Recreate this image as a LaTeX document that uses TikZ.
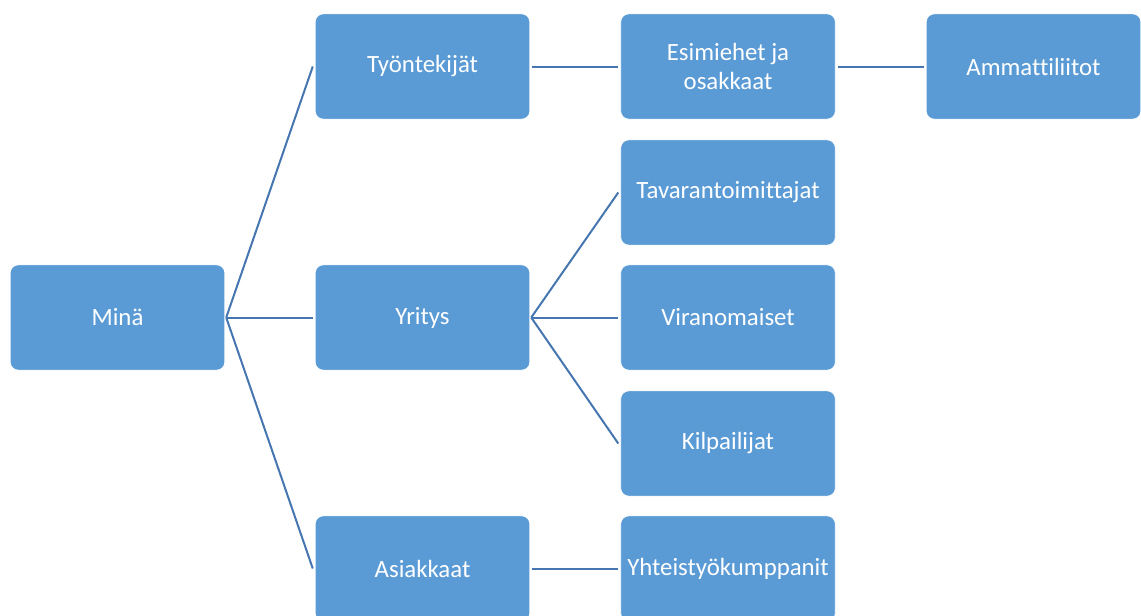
\documentclass[tikz,border=0pt]{standalone}
\usepackage{fontspec}
\setmainfont[Ligatures=NoCommon]{Carlito}
\definecolor{boxblue}{HTML}{5B9BD5}
\definecolor{lineblue}{HTML}{4676B0}
\begin{document}
\begin{tikzpicture}[x=0.75pt,y=-0.75pt,
    box/.style={draw=white,line width=0.6pt,fill=boxblue,rounded corners=6pt,
      minimum width=161pt,minimum height=79pt,text=white,align=center,
      font=\fontsize{18.6}{22}\selectfont},
    conn/.style={draw=lineblue,line width=1.5pt}]
  \useasboundingbox (0,0) rectangle (1141,615);
  % 第一列
  \node[box] (mina) at (117.5,317.5) {Minä};
  % 第二列
  \node[box] (tyo) at (422.5,66.5) {Työntekijät};
  \node[box] (yritys) at (422.5,317.5) {Yritys};
  \node[box] (asiakkaat) at (422.5,568.5) {Asiakkaat};
  % 第三列
  \node[box] (esimiehet) at (728,66.5) {Esimiehet ja\\osakkaat};
  \node[box] (tavara) at (728,192.5) {Tavarantoimittajat};
  \node[box] (viran) at (728,317.5) {Viranomaiset};
  \node[box] (kilpa) at (728,443.5) {Kilpailijat};
  \node[box] (yhteis) at (728,568.5) {Yhteistyökumppanit};
  % 第四列
  \node[box] (ammatti) at (1033.5,66.5) {Ammattiliitot};
  % 连线
  \foreach \b in {tyo,yritys,asiakkaat}
    \draw[conn] ([xshift=0.75pt]mina.east) -- ([xshift=-1.5pt]\b.west);
  \foreach \b in {tavara,viran,kilpa}
    \draw[conn] ([xshift=0.75pt]yritys.east) -- ([xshift=-1.5pt]\b.west);
  \draw[conn] ([xshift=1.5pt]tyo.east) -- ([xshift=-1.5pt]esimiehet.west);
  \draw[conn] ([xshift=1.5pt]esimiehet.east) -- ([xshift=-1.5pt]ammatti.west);
  \draw[conn] ([xshift=1.5pt]asiakkaat.east) -- ([xshift=-1.5pt]yhteis.west);
\end{tikzpicture}
\end{document}
